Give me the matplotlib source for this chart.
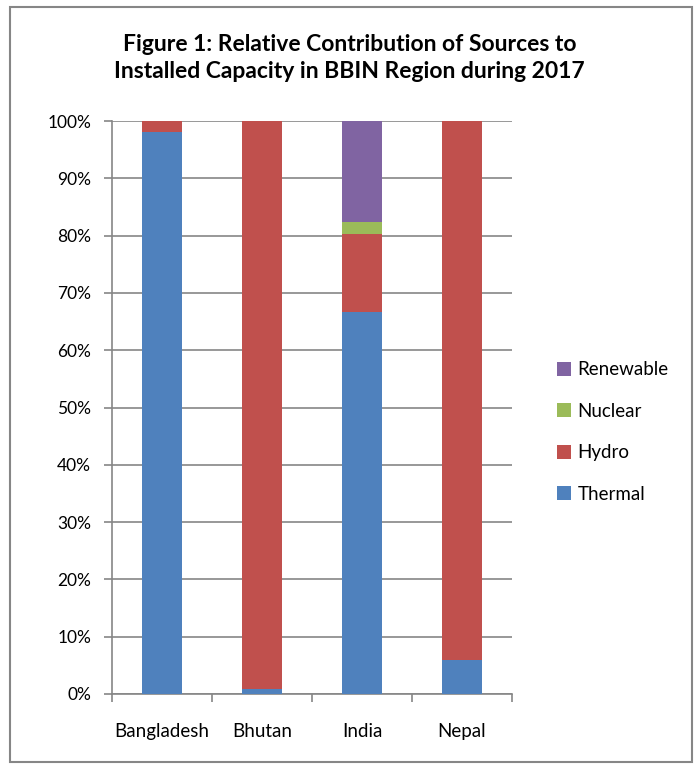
import matplotlib
matplotlib.use('Agg')
import matplotlib.pyplot as plt
from matplotlib.patches import Rectangle
from matplotlib.ticker import PercentFormatter

# shares of installed capacity, per cent
countries = ['Bangladesh', 'Bhutan', 'India', 'Nepal']
thermal = [98.1, 0.9, 66.7, 5.9]
hydro = [1.9, 99.1, 13.6, 94.1]
nuclear = [0.0, 0.0, 2.1, 0.0]
renewable = [0.0, 0.0, 17.6, 0.0]

series = [('Thermal', thermal, '#4F81BD'),
          ('Hydro', hydro, '#C0504D'),
          ('Nuclear', nuclear, '#9BBB59'),
          ('Renewable', renewable, '#8064A2')]

plt.rcParams['font.family'] = ['Lato', 'DejaVu Sans']
grey = '#868686'

fig = plt.figure(figsize=(6.99, 7.69), dpi=100)
ax = fig.add_axes([112 / 699, 75 / 769, 400 / 699, 573 / 769])

x = range(len(countries))
bottom = [0.0] * len(countries)
handles = []
for name, vals, col in series:
    b = ax.bar(x, vals, width=0.4, bottom=bottom, color=col, label=name, zorder=3)
    handles.append(b)
    bottom = [a + v for a, v in zip(bottom, vals)]

ax.set_ylim(0, 100)
ax.set_xlim(-0.5, len(countries) - 0.5)
ax.set_yticks(range(0, 101, 10))
ax.yaxis.set_major_formatter(PercentFormatter(decimals=0))
ax.grid(axis='y', color=grey, linewidth=1.2, zorder=0)

ax.set_xticks([i - 0.5 for i in range(len(countries) + 1)])
ax.set_xticklabels([])
ax.set_xticks(list(x), minor=True)
ax.set_xticklabels(countries, minor=True)
ax.tick_params(axis='x', which='minor', length=0, pad=21, labelsize=13.5)
ax.tick_params(axis='x', which='major', length=6, color=grey, width=1.2)
ax.tick_params(axis='y', length=6, color=grey, width=1.2, labelsize=12.5, pad=9)

for s in ['top', 'right']:
    ax.spines[s].set_visible(False)
for s in ['left', 'bottom']:
    ax.spines[s].set_color(grey)
    ax.spines[s].set_linewidth(1.2)

leg = fig.legend(handles[::-1], [s[0] for s in series][::-1],
                 loc='center left', bbox_to_anchor=(540 / 699, 1 - 432 / 769),
                 frameon=False, fontsize=13.5, handlelength=0.75, handleheight=0.75,
                 labelspacing=1.3, handletextpad=0.35)

fig.text(0.5, 1 - 58 / 769,
         'Figure 1: Relative Contribution of Sources to\nInstalled Capacity in BBIN Region during 2017',
         ha='center', va='center', fontsize=16.5, fontweight='bold', linespacing=1.3)

fig.patches.append(Rectangle((10 / 699, 7 / 769), 682 / 699, 755 / 769,
                             transform=fig.transFigure, fill=False,
                             edgecolor=grey, linewidth=1.5))

fig.savefig('out.png', dpi=100)
